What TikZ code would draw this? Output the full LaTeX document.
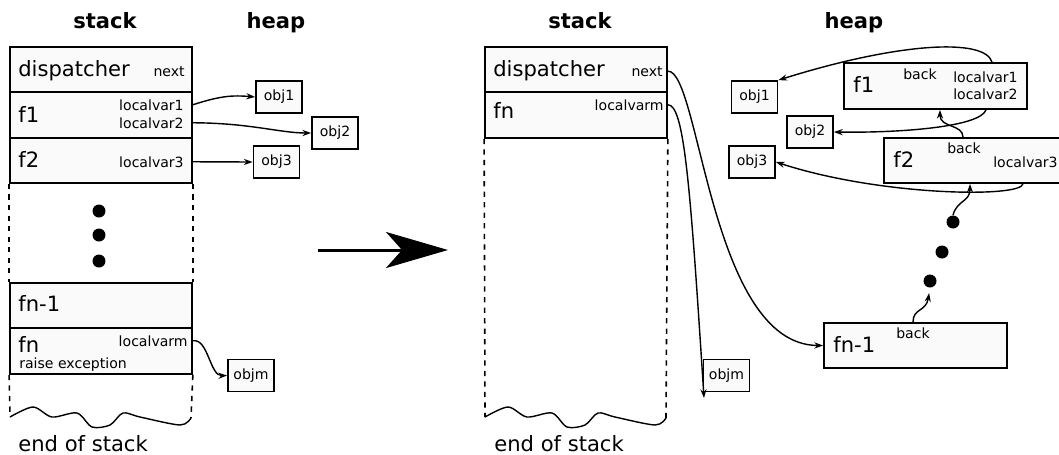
\documentclass[tikz,border=0pt]{standalone}
\usepackage{fontspec}
\setmainfont{DejaVu Sans}
\usetikzlibrary{arrows.meta}

\tikzset{
  big/.style={font=\fontsize{12}{14}\selectfont, inner sep=0pt},
  small/.style={font=\fontsize{8}{10}\selectfont, inner sep=0pt},
  title/.style={font=\fontsize{12}{14}\selectfont\bfseries, inner sep=0pt},
  frame/.style={draw, line width=1pt, fill=black!2, inner sep=0pt},
  obj/.style={frame, font=\fontsize{8}{10}\selectfont, minimum width=0.92cm, minimum height=0.64cm},
  ptr/.style={-{Stealth[length=5pt,width=3.5pt]}, line width=0.8pt},
  blob/.style={circle, fill=black, inner sep=0pt, minimum size=0.26cm},
  wall/.style={line width=0.9pt, dash pattern=on 3pt off 3pt},
}

\begin{document}
\begin{tikzpicture}[x=0.02cm, y=-0.02cm]
        \useasboundingbox (0,0) rectangle (1059,454);

        % ---- before: the whole stack ----
        \node[title, anchor=base] (stackl) at (105,28) {stack};
        \node[title, anchor=base] (heapl) at (276,28) {heap};

        \node[frame, minimum width=3.64cm, minimum height=0.9cm] (disp) at (101,69.5) {};
        \node[frame, minimum width=3.64cm, minimum height=0.92cm] (f1) at (101,115) {};
        \node[frame, minimum width=3.64cm, minimum height=0.9cm] (f2) at (101,160.5) {};
        \node[frame, minimum width=3.64cm, minimum height=0.9cm] (fnm1) at (101,305.5) {};
        \node[frame, minimum width=3.64cm, minimum height=0.92cm] (fn) at (101,351) {};

        \node[big, anchor=base west] (dispt) at (18,76) {dispatcher};
        \node[small, anchor=base east] (next) at (185,76) {next};
        \node[big, anchor=base west] (f1t) at (18,122) {f1};
        \node[small, anchor=base east] (lv1) at (184,110) {localvar1};
        \node[small, anchor=base east] (lv2) at (184,128) {localvar2};
        \node[big, anchor=base west] (f2t) at (18,167) {f2};
        \node[small, anchor=base east] (lv3) at (184,167) {localvar3};
        \node[big, anchor=base west] (fnm1t) at (18,311) {fn-1};
        \node[big, anchor=base west] (fnt) at (18,352) {fn};
        \node[small, anchor=base east] (lvm) at (188,346) {localvarm};
        \node[small, anchor=base west] (raise) at (19,368) {raise exception};
        \node[big, anchor=base west] (endl) at (18,451) {end of stack};

        \foreach \y [count=\i] in {211,235,261}
            \node[blob] (ld\i) at (99,\y) {};

        \coordinate (lbotl) at (10,417);
        \coordinate (lbotr) at (191,418);
        \draw[wall] (f2.south west) -- (fnm1.north west);
        \draw[wall] (f2.south east) -- (fnm1.north east);
        \draw[wall] (fn.south west) -- (lbotl);
        \draw[wall] (fn.south east) -- (lbotr);
        \draw[line width=0.8pt] plot[smooth, tension=0.5] coordinates
            {(10,417) (33,407) (52,417) (77,413) (92,427) (110,425) (123,413) (140,417) (180,425) (191,418)};

        \node[obj] (obj1) at (279,97) {obj1};
        \node[obj] (obj2) at (335,133) {obj2};
        \node[obj] (obj3) at (276.5,162) {obj3};
        \node[obj] (objm) at (251,375.5) {objm};

        \draw[ptr] (f1.east |- lv1) .. controls (220,96) and (232,95) .. (obj1.west);
        \draw[ptr] (f1.east |- lv2) .. controls (250,123) and (280,133) .. (obj2.west);
        \draw[ptr] (f2.east |- lv3) -- (obj3.west);
        \draw[ptr] (fn.east |- lvm) .. controls (208,338) and (210,376) .. (objm.west);

        % ---- the unwinding ----
        \coordinate (go) at (318,250);
        \coordinate (gone) at (448,250);
        \draw[line width=1.7pt, -{Stealth[length=1.24cm,width=0.72cm,inset=0.32cm]}] (go) -- (gone);

        % ---- after: frames moved to the heap ----
        \node[title, anchor=base] (stackr) at (580,28) {stack};
        \node[title, anchor=base] (heapr) at (854,28) {heap};

        \node[frame, minimum width=3.64cm, minimum height=0.9cm] (disp2) at (576,69.5) {};
        \node[frame, minimum width=3.64cm, minimum height=0.92cm] (fn2) at (576,115) {};

        \node[big, anchor=base west] (dispt2) at (493,76) {dispatcher};
        \node[small, anchor=base east] (next2) at (663,76) {next};
        \node[big, anchor=base west] (fnt2) at (493,118) {fn};
        \node[small, anchor=base east] (lvm2) at (664,110) {localvarm};
        \node[big, anchor=base west] (endr) at (494,451) {end of stack};

        \coordinate (rbotl) at (485,417);
        \coordinate (rbotr) at (666,418);
        \draw[wall] (fn2.south west) -- (rbotl);
        \draw[wall] (fn2.south east) -- (rbotr);
        \draw[line width=0.8pt] plot[smooth, tension=0.5] coordinates
            {(485,417) (508,407) (527,417) (552,413) (567,427) (585,425) (598,413) (615,417) (655,425) (666,418)};

        \node[frame, minimum width=3.66cm, minimum height=0.92cm] (f1h) at (935.5,86) {};
        \node[frame, minimum width=3.62cm, minimum height=0.9cm] (f2h) at (974.5,160.5) {};
        \node[frame, minimum width=3.66cm, minimum height=0.9cm] (fnh) at (915.5,345.5) {};

        \node[big, anchor=base west] (f1ht) at (853,92) {f1};
        \node[small, anchor=base] (back1) at (920,79) {back};
        \node[small, anchor=base east] (lv1h) at (1018,82) {localvar1};
        \node[small, anchor=base east] (lv2h) at (1018,99) {localvar2};
        \node[big, anchor=base west] (f2ht) at (893,167) {f2};
        \node[small, anchor=base] (back2) at (964,153) {back};
        \node[small, anchor=base east] (lv3h) at (1058,167) {localvar3};
        \node[big, anchor=base west] (fnht) at (833,352) {fn-1};
        \node[small, anchor=base] (backn) at (913,338) {back};

        \node[blob] (rd1) at (953,222) {};
        \node[blob] (rd2) at (942,252) {};
        \node[blob] (rd3) at (930,281) {};

        \node[obj] (obj1h) at (754.5,97) {obj1};
        \node[obj] (obj2h) at (810,132) {obj2};
        \node[obj] (obj3h) at (752,162) {obj3};
        \node[obj] (objmh) at (726.5,375.5) {objm};
        \coordinate (lost) at (704,398);

        \draw[ptr] (disp2.east |- next2) .. controls (700,70) and (710,345) .. (fnh.west);
        \draw[ptr] (fn2.east |- lvm2) .. controls (684,105) and (690,180) .. (lost);
        \draw[ptr] (992,0 |- f1h.north) .. controls (985,38) and (900,42) .. (obj1h.north east);
        \draw[ptr] (986,0 |- f1h.south) .. controls (980,127) and (900,133) .. (obj2h.east);
        \draw[ptr] (963,0 |- f2h.north) .. controls (963,124) and (940,128) .. (940,0 |- f1h.south);
        \draw[ptr] (1023,0 |- f2h.south) .. controls (1021,198) and (880,196) .. (obj3h.east);
        \draw[ptr] (rd1.north) .. controls (957,200) and (970,202) .. (970,0 |- f2h.south);
        \draw[ptr, shorten >=3pt] (913,0 |- fnh.north) .. controls (913,308) and (926,312) .. (rd3.south);

    \end{tikzpicture}
\end{document}
